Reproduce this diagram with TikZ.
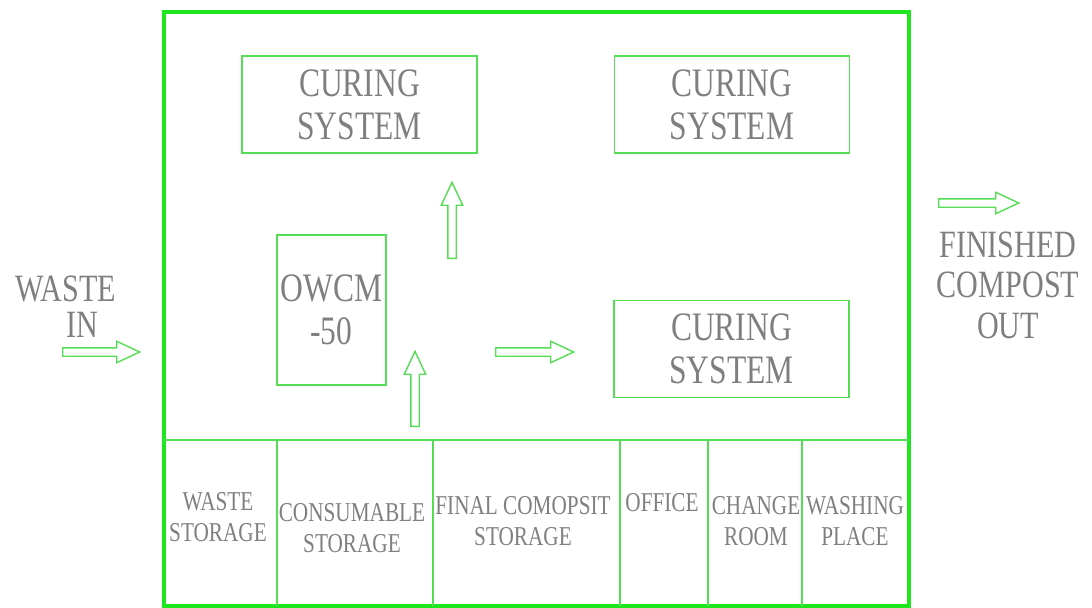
\documentclass[tikz,border=0pt]{standalone}
\usepackage{fontspec}
\setmainfont{Liberation Serif}[FakeStretch=0.78]
\usetikzlibrary{shapes.arrows}
\definecolor{framegreen}{HTML}{1EE61E}
\definecolor{linegreen}{HTML}{55DD55}
\definecolor{labelgray}{HTML}{7F7F7F}

\begin{document}
\begin{tikzpicture}[x=0.02cm, y=-0.02cm,
    unit/.style={draw=linegreen, line width=0.9pt, inner sep=0pt,
                 align=center, text=labelgray,
                 font=\fontsize{23}{24.5}\selectfont},
    curing/.style={unit, minimum width=4.7cm, minimum height=1.94cm},
    biglabel/.style={align=center, text=labelgray, inner sep=0pt,
                     font=\fontsize{22}{20.5}\selectfont},
    roomlabel/.style={align=center, text=labelgray, inner sep=0pt,
                      font=\fontsize{15.5}{18}\selectfont},
    flow/.style={single arrow, draw=linegreen, line width=0.8pt,
                 inner sep=0.07cm, single arrow head extend=0.13cm,
                 single arrow tip angle=50, minimum height=1.55cm,
                 anchor=tail}
  ]
    \useasboundingbox (0,0) rectangle (1092,608);

    % plant outline and room row
    \draw[framegreen, line width=0.08cm] (163.5,12.5) rectangle (909,606);
    \draw[linegreen, line width=0.9pt] (163.5,440) -- (909,440);
    \foreach \x in {277,433,620,708,802}
      \draw[linegreen, line width=0.9pt] (\x,440) -- (\x,606);

    \node[curing] (cureA) at (359.5,104.5) {CURING\\SYSTEM};
    \node[curing] (cureB) at (732,104.5) {CURING\\SYSTEM};
    \node[curing] (cureC) at (731.5,349) {CURING\\SYSTEM};
    \node[unit, minimum width=2.18cm, minimum height=3cm] (owcm)
      at (331.5,310) {OWCM\\-50};

    \node[flow, rotate=90, minimum height=1.52cm] (upA) at (452,259) {};
    \node[flow, rotate=90, minimum height=1.5cm] (upB) at (415,427) {};
    \node[flow, minimum height=1.56cm] (rightA) at (495,352) {};
    \node[flow, minimum height=1.54cm] (wastearrow) at (62,352) {};
    \node[flow, minimum height=1.6cm] (outarrow) at (938,203) {};

    \node[biglabel] (wastein) at (66,307) {WASTE\\\hspace*{0.64cm}IN};
    \node[biglabel, font=\fontsize{22}{23}\selectfont] (finished)
      at (1008,285) {FINISHED\\COMPOST\\OUT};

    \node[roomlabel] (rwaste) at (218,517) {WASTE\\STORAGE};
    \node[roomlabel] (rcons) at (352,528) {CONSUMABLE\\STORAGE};
    \node[roomlabel] (rfinal) at (523,521) {FINAL COMOPSIT\\STORAGE};
    \node[roomlabel] (roffice) at (662,503) {OFFICE};
    \node[roomlabel] (rchange) at (756,521) {CHANGE\\ROOM};
    \node[roomlabel] (rwash) at (855,521) {WASHING\\PLACE};
\end{tikzpicture}
\end{document}
